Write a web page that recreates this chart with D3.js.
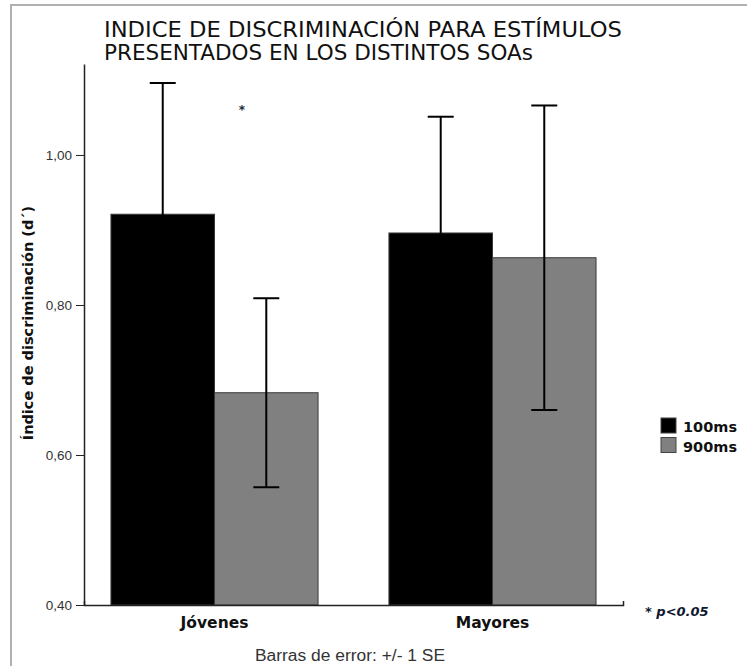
<!DOCTYPE html>
<html>
<head>
<meta charset="utf-8">
<script src="https://cdn.jsdelivr.net/npm/d3@7"></script>
<style>
  body { margin: 0; background: #fff; }
  svg { display: block; }
</style>
</head>
<body>
<svg width="747" height="666"></svg>
<script>
// values
var groups = ["Jóvenes", "Mayores"],
    soas = ["100ms", "900ms"],
    means100 = [0.921, 0.896],
    means900 = [0.683, 0.863],
    se100 = [0.175, 0.155],
    se900 = [0.126, 0.203],
    yTicks = [0.40, 0.60, 0.80, 1.00],
    colors = ["#000000", "#808080"];

var titleLines = ["INDICE DE DISCRIMINACIÓN PARA ESTÍMULOS", "PRESENTADOS EN LOS DISTINTOS SOAs"];

var svg = d3.select("svg");

// table for the bars
var data = [];
groups.forEach(function(g, i) {
  data.push({group: g, soa: soas[0], mean: means100[i], se: se100[i]});
  data.push({group: g, soa: soas[1], mean: means900[i], se: se900[i]});
});

var x0 = d3.scaleBand().domain(groups).range([84, 623]).paddingInner(0.255).paddingOuter(0.097),
    x1 = d3.scaleBand().domain(soas).range([0, x0.bandwidth()]),
    y = d3.scaleLinear().domain([0.4, 1.1213]).range([605, 64]),
    color = d3.scaleOrdinal().domain(soas).range(colors);

// frame
svg.append("path")
    .attr("d", "M11,666 L11,5 L747,5")
    .attr("fill", "none")
    .attr("stroke", "#b0b0b0")
    .attr("stroke-width", 2);

// title
svg.append("g").selectAll("text")
    .data(titleLines)
    .enter().append("text")
    .attr("x", 104)
    .attr("y", function(d, i) { return 37 + i * 23; })
    .attr("font-family", "DejaVu Sans")
    .attr("font-size", 21)
    .attr("textLength", function(d, i) { return i == 0 ? 518 : 429; })
    .attr("lengthAdjust", "spacingAndGlyphs")
    .attr("fill", "#111")
    .text(function(d) { return d; });

// bars
svg.append("g").selectAll("rect")
    .data(data)
    .enter().append("rect")
    .attr("x", function(d) { return x0(d.group) + x1(d.soa); })
    .attr("y", function(d) { return y(d.mean); })
    .attr("width", x1.bandwidth())
    .attr("height", function(d) { return y(0.4) - y(d.mean); })
    .attr("fill", function(d) { return color(d.soa); })
    .attr("stroke", "#3a3a3a")
    .attr("stroke-width", 1);

// error bars (black, so the lower half vanishes inside the black bars)
var err = svg.append("g").attr("stroke", "#000").attr("stroke-width", 2)
    .selectAll("g")
    .data(data)
    .enter().append("g")
    .attr("transform", function(d) { return "translate(" + (x0(d.group) + x1(d.soa) + x1.bandwidth() / 2) + ",0)"; });

err.append("line")
    .attr("x1", 0).attr("x2", 0)
    .attr("y1", function(d) { return y(d.mean - d.se); })
    .attr("y2", function(d) { return y(d.mean + d.se); });

err.append("line")
    .attr("x1", -13).attr("x2", 13)
    .attr("y1", function(d) { return y(d.mean + d.se); })
    .attr("y2", function(d) { return y(d.mean + d.se); });

err.append("line")
    .attr("x1", -13).attr("x2", 13)
    .attr("y1", function(d) { return y(d.mean - d.se); })
    .attr("y2", function(d) { return y(d.mean - d.se); });

// y axis
var yAxis = svg.append("g")
    .attr("transform", "translate(84,0)")
    .call(d3.axisLeft(y).tickValues(yTicks).tickSize(8).tickSizeOuter(0)
      .tickFormat(function(d) { return d3.format(".2f")(d).replace(".", ","); }));
yAxis.select(".domain").attr("stroke", "#222").attr("stroke-width", 1.5);
yAxis.selectAll(".tick line").attr("stroke", "#222");
yAxis.selectAll(".tick text")
    .attr("x", -12)
    .attr("font-family", "Liberation Sans")
    .attr("font-size", 13.5)
    .attr("fill", "#333");

// x axis
var xAxis = svg.append("g")
    .attr("transform", "translate(0,605)")
    .call(d3.axisBottom(x0).tickSize(0).tickSizeOuter(-4).tickPadding(12));
xAxis.select(".domain").attr("stroke", "#222").attr("stroke-width", 1.5);
xAxis.selectAll(".tick text")
    .attr("font-family", "DejaVu Sans")
    .attr("font-weight", "bold")
    .attr("font-size", 15.5)
    .attr("fill", "#111");

// y axis title
svg.append("text")
    .attr("transform", "translate(33,323) rotate(-90)")
    .attr("text-anchor", "middle")
    .attr("font-family", "DejaVu Sans")
    .attr("font-weight", "bold")
    .attr("font-size", 14.5)
    .attr("fill", "#111")
    .text("Índice de discriminación (d´)");

// legend
var legend = svg.append("g").selectAll("g")
    .data(soas)
    .enter().append("g")
    .attr("transform", function(d, i) { return "translate(661," + (418 + i * 19.5) + ")"; });
legend.append("rect")
    .attr("width", 15).attr("height", 15)
    .attr("fill", function(d) { return color(d); })
    .attr("stroke", "#444");
legend.append("text")
    .attr("x", 22).attr("y", 14)
    .attr("font-family", "DejaVu Sans")
    .attr("font-weight", "bold")
    .attr("font-size", 14.5)
    .attr("fill", "#111")
    .text(function(d) { return d; });

// significance notes
svg.append("text")
    .attr("x", 242).attr("y", 114)
    .attr("text-anchor", "middle")
    .attr("font-family", "DejaVu Sans")
    .attr("font-weight", "bold")
    .attr("font-size", 12)
    .attr("fill", "#1a2a44")
    .text("*");

svg.append("text")
    .attr("x", 645).attr("y", 616)
    .attr("font-family", "DejaVu Sans")
    .attr("font-weight", "bold")
    .attr("font-style", "italic")
    .attr("font-size", 13)
    .attr("fill", "#101830")
    .text("* p<0.05");

// footer
svg.append("text")
    .attr("x", 255).attr("y", 661)
    .attr("font-family", "Liberation Sans")
    .attr("font-size", 16)
    .attr("textLength", 190)
    .attr("lengthAdjust", "spacingAndGlyphs")
    .attr("fill", "#333")
    .text("Barras de error: +/- 1 SE");
</script>
</body>
</html>
